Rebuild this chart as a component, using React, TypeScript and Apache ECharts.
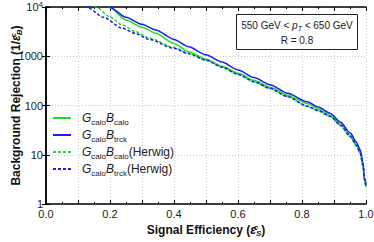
import React, { useEffect, useRef } from "react";
import * as echarts from "echarts";

const effCalo = [0.19, 0.2, 0.25, 0.3, 0.343, 0.4, 0.446, 0.5, 0.55, 0.601, 0.65, 0.7, 0.755, 0.817, 0.85, 0.889, 0.92, 0.951, 0.97, 0.982, 0.991, 0.995, 1.0];
const rejCalo = [11500, 9600, 5450, 3900, 2940, 1820, 1240, 870, 630, 450, 325, 235, 162, 110, 85, 63, 42, 25, 16, 11, 6, 3.2, 2.3];

const effTrck = [0.19, 0.198, 0.25, 0.3, 0.343, 0.4, 0.446, 0.5, 0.55, 0.601, 0.65, 0.7, 0.755, 0.817, 0.85, 0.889, 0.92, 0.951, 0.97, 0.982, 0.991, 0.995, 1.0];
const rejTrck = [11000, 10000, 6200, 4450, 3400, 2200, 1560, 1070, 760, 525, 370, 265, 177, 119, 93, 69, 46, 27.5, 18, 12.6, 6.8, 3.5, 2.5];

const effCaloH = [0.14, 0.157, 0.2, 0.238, 0.28, 0.322, 0.4, 0.446, 0.5, 0.55, 0.601, 0.65, 0.7, 0.755, 0.817, 0.85, 0.889, 0.92, 0.951, 0.97, 0.982, 0.991, 0.995, 1.0];
const rejCaloH = [12500, 10000, 6300, 4300, 3150, 2350, 1500, 1150, 840, 600, 425, 300, 220, 150, 95, 78, 59, 39, 23, 15, 10.5, 5.6, 3, 2.2];

const effTrckH = [0.11, 0.127, 0.18, 0.238, 0.28, 0.322, 0.4, 0.446, 0.5, 0.55, 0.601, 0.65, 0.7, 0.755, 0.817, 0.85, 0.889, 0.92, 0.951, 0.97, 0.982, 0.991, 0.995, 1.0];
const rejTrckH = [12500, 10000, 6200, 3700, 2900, 2200, 1450, 1120, 830, 600, 428, 305, 223, 152, 97, 79, 60, 40, 23.5, 15.5, 10.8, 5.8, 3.1, 2.3];

const yTickLabels: Record<number, string> = { 1: "1", 10: "10", 100: "100", 1000: "1000", 10000: "{b|10}{sup|4}" };

const GREEN = "#1fe01f";
const BLUE = "#1c1cf0";
const FONT = "Liberation Sans, Arial, sans-serif";

const legendNames = ["GcaloBcalo", "GcaloBtrck", "GcaloBcaloH", "GcaloBtrckH"];
const legendRich: Record<string, string> = {
  GcaloBcalo: "{i|G}{s|calo}{i|B}{s|calo}",
  GcaloBtrck: "{i|G}{s|calo}{i|B}{s|trck}",
  GcaloBcaloH: "{i|G}{s|calo}{i|B}{s|calo}{n|(Herwig)}",
  GcaloBtrckH: "{i|G}{s|calo}{i|B}{s|trck}{n|(Herwig)}",
};

function pairs(xs: number[], ys: number[]) {
  return xs.map((x, i) => [x, ys[i]]);
}

const nameRich = {
  e: { fontSize: 12, fontWeight: "bold", fontStyle: "italic", fontFamily: FONT, color: "#111", lineHeight: 14 },
  sup: { fontSize: 8, fontWeight: "bold", fontStyle: "italic", fontFamily: FONT, color: "#111", lineHeight: 8, verticalAlign: "top", width: 0.01 },
  sub: { fontSize: 8, fontWeight: "bold", fontStyle: "italic", fontFamily: FONT, color: "#111", lineHeight: 8, verticalAlign: "bottom" },
};

export default function App() {
  const ref = useRef<HTMLDivElement>(null);
  useEffect(() => {
    if (!ref.current) return;
    const chart = echarts.init(ref.current, null, { renderer: "svg" });
    const lineSeries = (name: string, xs: number[], ys: number[], color: string, dashed: boolean) => ({
      name,
      type: "line",
      data: pairs(xs, ys),
      symbol: "none",
      smooth: 0.25,
      smoothMonotone: "x",
      clip: true,
      lineStyle: { color, width: 1.5, type: dashed ? [3, 2] : "solid" },
      itemStyle: { color },
    });
    chart.setOption({
      animation: false,
      textStyle: { fontFamily: FONT },
      grid: { left: 46, right: 8, top: 7, bottom: 38, outerBoundsMode: "none", containLabel: false },
      legend: {
        orient: "vertical",
        left: 47,
        top: 107,
        itemWidth: 18,
        itemHeight: 10,
        itemGap: 3,
        data: legendNames,
        itemStyle: { opacity: 0 },
        formatter: (n: string) => legendRich[n],
        textStyle: {
          fontFamily: FONT,
          color: "#222",
          padding: [0, 0, 0, 6],
          rich: {
            i: { fontSize: 12, fontStyle: "italic", fontFamily: FONT, color: "#222", lineHeight: 16 },
            s: { fontSize: 8, fontFamily: FONT, color: "#222", lineHeight: 9, verticalAlign: "bottom" },
            n: { fontSize: 12, fontFamily: FONT, color: "#222", lineHeight: 16 },
          },
        },
      },
      xAxis: [
        {
          type: "value",
          min: 0,
          max: 1,
          interval: 0.1,
          name: "Signal Efficiency ({e|ε}{sup|c}{sub|S})",
          nameLocation: "middle",
          nameGap: 19,
          nameMoveOverlap: false,
          nameTextStyle: { fontFamily: FONT, fontSize: 12, fontWeight: "bold", color: "#111", lineHeight: 14, rich: nameRich },
          axisLine: { show: true, lineStyle: { color: "#000", width: 1.5 } },
          axisTick: { show: true, inside: true, length: 4, lineStyle: { color: "#000" } },
          minorTick: { show: true, splitNumber: 2, length: 2, lineStyle: { color: "#000" } },
          axisLabel: {
            fontFamily: FONT,
            fontSize: 11,
            color: "#222",
            margin: 4,
            formatter: (v: number) => (Math.round(v * 10) % 2 === 0 ? v.toFixed(1) : ""),
          },
          splitLine: { show: true, lineStyle: { color: "#c8c8c8", type: [1, 2], width: 1 } },
        },
        {
          type: "value",
          position: "top",
          min: 0,
          max: 1,
          interval: 0.1,
          axisLine: { show: true, lineStyle: { color: "#000", width: 1.5 } },
          axisTick: { show: true, inside: true, length: 4, lineStyle: { color: "#000" } },
          minorTick: { show: true, splitNumber: 2, length: 2, lineStyle: { color: "#000" } },
          axisLabel: { show: false },
          splitLine: { show: false },
        },
      ],
      yAxis: [
        {
          type: "log",
          logBase: 10,
          min: 1,
          max: 10000,
          name: "Background Rejection (1/{e|ε}{sup|c}{sub|B})",
          nameLocation: "middle",
          nameRotate: 90,
          nameGap: 23,
          nameMoveOverlap: false,
          nameTextStyle: { fontFamily: FONT, fontSize: 12, fontWeight: "bold", color: "#111", lineHeight: 14, rich: nameRich },
          axisLine: { show: true, lineStyle: { color: "#000", width: 1.5 } },
          axisTick: { show: true, inside: true, length: 4, lineStyle: { color: "#000" } },
          axisLabel: {
            fontFamily: FONT,
            fontSize: 11,
            color: "#222",
            margin: 3,
            formatter: (v: number) => yTickLabels[Math.round(v)] ?? "",
            rich: {
              b: { fontSize: 11, fontFamily: FONT, color: "#222", lineHeight: 14 },
              sup: { fontSize: 8, fontFamily: FONT, color: "#222", lineHeight: 8, verticalAlign: "top" },
            },
          },
          splitLine: { show: true, lineStyle: { color: "#c8c8c8", type: [1, 2], width: 1 } },
        },
        {
          type: "log",
          logBase: 10,
          min: 1,
          max: 10000,
          position: "right",
          axisLine: { show: true, lineStyle: { color: "#000", width: 1.5 } },
          axisTick: { show: true, inside: true, length: 4, lineStyle: { color: "#000" } },
          axisLabel: { show: false },
          splitLine: { show: false },
        },
      ],
      graphic: [
        {
          type: "rect",
          shape: { x: 236.5, y: 14.5, width: 121, height: 35 },
          style: { fill: "#fff", stroke: "#222", lineWidth: 1 },
          z: 100,
        },
        {
          type: "text",
          x: 297,
          y: 25,
          z: 101,
          style: {
            text: "{n|550 GeV < }{i|p}{s|T}{n| < 650 GeV}",
            align: "center",
            verticalAlign: "middle",
            rich: {
              n: { fontSize: 10, fontFamily: FONT, fill: "#222", lineHeight: 13 },
              i: { fontSize: 10, fontStyle: "italic", fontFamily: FONT, fill: "#222", lineHeight: 13 },
              s: { fontSize: 7, fontStyle: "italic", fontFamily: FONT, fill: "#222", lineHeight: 7, verticalAlign: "bottom" },
            },
          },
        },
        {
          type: "text",
          x: 297,
          y: 40,
          z: 101,
          style: { text: "R = 0.8", align: "center", verticalAlign: "middle", fontSize: 10, fontFamily: FONT, fill: "#222" },
        },
      ],
      series: [
        lineSeries("GcaloBcalo", effCalo, rejCalo, GREEN, false),
        lineSeries("GcaloBtrck", effTrck, rejTrck, BLUE, false),
        lineSeries("GcaloBcaloH", effCaloH, rejCaloH, GREEN, true),
        lineSeries("GcaloBtrckH", effTrckH, rejTrckH, BLUE, true),
      ],
    });
    return () => chart.dispose();
  }, []);
  return <div ref={ref} style={{ width: 374, height: 242, position: "absolute", left: 0, top: 0 }} />;
}
